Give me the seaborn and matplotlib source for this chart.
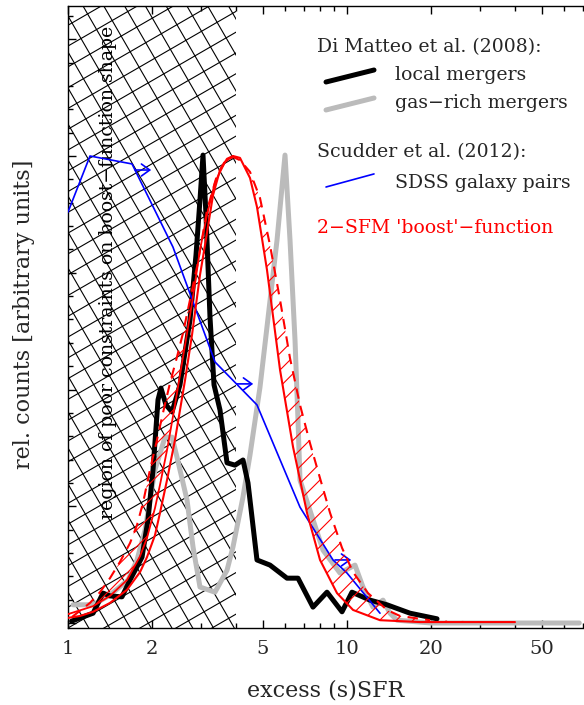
import numpy as np
import pandas as pd
import matplotlib
matplotlib.use("Agg")
import matplotlib.pyplot as plt
import seaborn as sns
from matplotlib.lines import Line2D
from matplotlib.transforms import IdentityTransform
from matplotlib.ticker import FixedLocator, FixedFormatter, NullFormatter, MultipleLocator

# ---------------- data ----------------
local_x = [1.03, 1.23, 1.335, 1.414, 1.561, 1.668, 1.842, 1.935, 2.017, 2.102,
           2.154, 2.245, 2.360, 2.520, 2.737, 2.876, 2.972, 3.047, 3.123, 3.228,
           3.337, 3.506, 3.715, 3.968, 4.239, 4.417, 4.757, 5.297, 6.094, 6.673,
           7.552, 8.478, 9.596, 10.42, 12.09, 13.91, 16.82, 21.02]
local_y = [0.004, 0.021, 0.064, 0.058, 0.056, 0.092, 0.141, 0.221, 0.328, 0.478,
           0.503, 0.467, 0.452, 0.510, 0.649, 0.788, 0.906, 1.002, 0.874, 0.655,
           0.510, 0.456, 0.343, 0.338, 0.349, 0.300, 0.135, 0.124, 0.096, 0.096,
           0.034, 0.066, 0.024, 0.066, 0.049, 0.039, 0.021, 0.009]

gasrich_x = [1.042, 1.170, 1.250, 1.414, 1.641, 1.768, 1.888, 2.050, 2.227, 2.360,
             2.459, 2.584, 2.671, 2.806, 2.972, 3.364, 3.715, 3.903, 4.239, 4.491,
             4.877, 5.167, 5.613, 5.995, 6.248, 6.511, 6.673, 6.785, 8.204, 9.438,
             10.68, 11.41, 12.39, 13.46, 14.26, 15.11, 20.0, 30.0, 45.0, 60.0, 68.0]
gasrich_y = [0.039, 0.039, 0.041, 0.060, 0.092, 0.135, 0.199, 0.328, 0.398, 0.398,
             0.355, 0.300, 0.263, 0.163, 0.077, 0.066, 0.113, 0.163, 0.270, 0.360,
             0.505, 0.634, 0.820, 1.002, 0.820, 0.606, 0.435, 0.306, 0.156, 0.107,
             0.124, 0.077, 0.034, 0.049, 0.021, 0.006, 0.0, 0.0, 0.0, 0.0, 0.0]

sdss_x = [1.0, 1.199, 1.696, 2.378, 3.364, 4.757, 6.785, 8.909, 10.0, 13.13]
sdss_y = [0.880, 1.000, 0.983, 0.805, 0.559, 0.467, 0.248, 0.135, 0.107, 0.021]
limit_x = [1.738, 4.034, 9.058]
limit_y = [0.970, 0.512, 0.135]

# main 2-SFM boost function
boost_x = [1.000, 1.104, 1.230, 1.414, 1.627, 1.812, 1.919, 2.050, 2.137, 2.264,
           2.418, 2.627, 2.783, 2.972, 3.097, 3.309, 3.506, 3.715, 3.903, 4.135,
           4.491, 4.757, 5.167, 5.754, 6.406, 7.189, 8.004, 9.208, 10.51, 13.13,
           18.27, 40.0]
boost_y = [0.011, 0.015, 0.024, 0.043, 0.071, 0.109, 0.141, 0.188, 0.236, 0.306,
           0.392, 0.520, 0.617, 0.745, 0.809, 0.916, 0.970, 0.994, 1.000, 0.996,
           0.953, 0.891, 0.756, 0.542, 0.377, 0.236, 0.135, 0.064, 0.028, 0.006,
           0.002, 0.002]

# alternative (rising-side) variant of the boost function
alt_x = [1.000, 1.230, 1.414, 1.627, 1.812, 1.919, 2.050, 2.137, 2.264, 2.418,
         2.627, 2.783, 2.972, 3.149, 3.364, 3.654, 3.903]
alt_y = [0.019, 0.036, 0.058, 0.092, 0.143, 0.182, 0.246, 0.296, 0.370, 0.467,
         0.595, 0.685, 0.799, 0.874, 0.944, 0.987, 1.000]

# wide envelope (dashed)
wide_x = [1.034, 1.199, 1.302, 1.414, 1.536, 1.668, 1.768, 1.857, 1.967, 2.084,
          2.190, 2.321, 2.459, 2.584, 2.737, 2.924, 3.149, 3.421, 3.654, 3.903,
          4.135, 4.491, 4.877, 5.297, 5.754, 6.248, 6.785, 7.369, 8.004, 8.692,
          9.596, 10.51, 11.89, 13.91, 15.49, 19.84]
wide_y = [0.013, 0.043, 0.066, 0.096, 0.131, 0.171, 0.210, 0.257, 0.328, 0.392,
          0.450, 0.514, 0.570, 0.621, 0.692, 0.773, 0.884, 0.959, 0.989, 0.998,
          0.991, 0.966, 0.910, 0.809, 0.692, 0.567, 0.467, 0.385, 0.310, 0.236,
          0.161, 0.109, 0.064, 0.028, 0.015, 0.006]

region_lo, region_hi = 1.0, 4.0
xtick_vals = [1, 2, 5, 10, 20, 50]
xtick_labels = ["1", "2", "5", "10", "20", "50"]
xminor_vals = [3, 4, 6, 7, 8, 9, 30, 40, 60, 70, 80, 90]

# ---------------- style ----------------
sns.set_theme(style="ticks")
plt.rcParams["font.family"] = ["DejaVu Serif"]
plt.rcParams["hatch.linewidth"] = 0.8
plt.rcParams["axes.linewidth"] = 1.0

fig = plt.figure(figsize=(5.84, 7.05), dpi=100)
ax = fig.add_axes([68 / 584, 77 / 705, 558 / 584, 622 / 705])
ax.set_xscale("log")
ax.set_xlim(1, 100)
ax.set_ylim(-0.0107, 1.3212)

# ---------------- cross-hatched "poor constraints" region ----------------
clip = ax.axvspan(region_lo, region_hi, facecolor="none", edgecolor="none", zorder=1)
bb = ax.bbox
diag = np.hypot(bb.width, bb.height)
spacing = 18.0
origin = np.array([bb.x0, bb.y0])
for ang in (30.0, -60.0):
    t = np.deg2rad(ang)
    u = np.array([np.cos(t), np.sin(t)])
    n = np.array([-np.sin(t), np.cos(t)])
    for k in np.arange(-int(diag / spacing) - 2, int(diag / spacing) + 2):
        c = origin + k * spacing * n
        p0, p1 = c - diag * u, c + diag * u
        ln = Line2D([p0[0], p1[0]], [p0[1], p1[1]], transform=IdentityTransform(),
                    color="black", lw=0.8, zorder=1)
        ax.add_artist(ln)
        ln.set_clip_path(clip)

ax.text(0.0717, 0.571, "region of poor constraints on boost\u2212function shape",
        transform=ax.transAxes, rotation=90, ha="center", va="center",
        fontsize=13.6, color="black", zorder=2)

# ---------------- curves ----------------
df_gas = pd.DataFrame({"x": gasrich_x, "y": gasrich_y})
df_loc = pd.DataFrame({"x": local_x, "y": local_y})
df_sdss = pd.DataFrame({"x": sdss_x, "y": sdss_y})
df_boost = pd.DataFrame({"x": boost_x, "y": boost_y})
df_alt = pd.DataFrame({"x": alt_x, "y": alt_y})
df_wide = pd.DataFrame({"x": wide_x, "y": wide_y})

sns.lineplot(data=df_gas, x="x", y="y", sort=False, estimator=None, ax=ax,
             color="#bbbbbb", lw=3.6, zorder=3, solid_capstyle="round")
sns.lineplot(data=df_loc, x="x", y="y", sort=False, estimator=None, ax=ax,
             color="black", lw=3.6, zorder=4, solid_capstyle="round")
sns.lineplot(data=df_sdss, x="x", y="y", sort=False, estimator=None, ax=ax,
             color="blue", lw=1.2, zorder=5)
for lx, ly in zip(limit_x, limit_y):
    ax.annotate("", xy=(lx * 10 ** 0.058, ly), xytext=(lx, ly), xycoords="data",
                arrowprops=dict(arrowstyle="->,head_length=0.5,head_width=0.36",
                                color="blue", lw=1.2, shrinkA=0, shrinkB=0),
                zorder=5)

# hatched band: inner boundary = alternative curve (rising) + main curve (falling)
inner_x = list(alt_x) + [bx for bx in boost_x if bx > alt_x[-1]]
inner_y = list(alt_y) + [by for bx, by in zip(boost_x, boost_y) if bx > alt_x[-1]]
poly_x = inner_x + list(wide_x[::-1])
poly_y = inner_y + list(wide_y[::-1])
ax.fill(poly_x, poly_y, facecolor="none", edgecolor="red", linewidth=0,
        hatch="//", zorder=6)
line_w = sns.lineplot(data=df_wide, x="x", y="y", sort=False, estimator=None, ax=ax,
                      color="red", lw=1.5, zorder=7).lines[-1]
line_w.set_dashes((5, 3.5))
sns.lineplot(data=df_alt, x="x", y="y", sort=False, estimator=None, ax=ax,
             color="red", lw=1.3, zorder=7)
sns.lineplot(data=df_boost, x="x", y="y", sort=False, estimator=None, ax=ax,
             color="red", lw=1.5, zorder=7)

# ---------------- axes ----------------
ax.xaxis.set_major_locator(FixedLocator(xtick_vals))
ax.xaxis.set_major_formatter(FixedFormatter(xtick_labels))
ax.xaxis.set_minor_locator(FixedLocator(xminor_vals))
ax.xaxis.set_minor_formatter(NullFormatter())
ax.yaxis.set_major_locator(MultipleLocator(0.25))
ax.yaxis.set_minor_locator(MultipleLocator(0.05))
ax.tick_params(which="both", direction="in", top=True, bottom=True, left=True,
               right=False, labelleft=False, color="black", width=1.0)
ax.tick_params(which="major", length=5.8, labelsize=14, pad=9)
ax.tick_params(which="minor", length=3.6)
for s in ax.spines.values():
    s.set_color("black")
ax.spines["right"].set_visible(False)

ax.set_xlabel("excess (s)SFR", fontsize=16, va="center")
ax.xaxis.set_label_coords(0.4624, -0.0997)
ax.set_ylabel("rel. counts [arbitrary units]", fontsize=16, va="center")
ax.yaxis.set_label_coords(-0.0789, 0.505)

# ---------------- legend (hand-placed, tilted samples) ----------------
T = ax.transAxes
fs = 13.6
ax.text(0.4462, 0.934, "Di Matteo et al. (2008):", transform=T, fontsize=fs,
        ha="left", va="center")
ax.plot([0.4624, 0.5484], [0.8778, 0.8971], transform=T, color="black", lw=3.6,
        solid_capstyle="round")
ax.text(0.586, 0.889, "local mergers", transform=T, fontsize=fs, ha="left", va="center")
ax.plot([0.4624, 0.5484], [0.8328, 0.8521], transform=T, color="#bbbbbb", lw=3.6,
        solid_capstyle="round")
ax.text(0.586, 0.844, "gas\u2212rich mergers", transform=T, fontsize=fs, ha="left",
        va="center")
ax.text(0.4462, 0.765, "Scudder et al. (2012):", transform=T, fontsize=fs,
        ha="left", va="center")
ax.plot([0.4624, 0.5484], [0.709, 0.730], transform=T, color="blue", lw=1.2)
ax.text(0.586, 0.715, "SDSS galaxy pairs", transform=T, fontsize=fs, ha="left",
        va="center")
ax.text(0.4462, 0.643, "2\u2212SFM 'boost'\u2212function", transform=T, fontsize=fs,
        ha="left", va="center", color="red")

fig.savefig("out.png", dpi=100)
